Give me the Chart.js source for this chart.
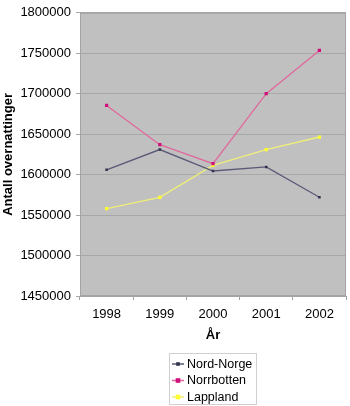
<!DOCTYPE html>
<html>
<head>
<meta charset="utf-8">
<script src="https://cdn.jsdelivr.net/npm/chart.js@4/dist/chart.umd.min.js"></script>
<style>
  html, body { margin: 0; padding: 0; background: #ffffff; }
  #wrap { position: relative; width: 350px; height: 406px; }
</style>
</head>
<body>
<div id="wrap"><canvas id="c" width="350" height="406"></canvas></div>
<script>
const years = ['1998', '1999', '2000', '2001', '2002'];
const nordNorge = [1606000, 1631000, 1604500, 1609500, 1572000];
const norrbotten = [1685500, 1637000, 1613500, 1700000, 1753500];
const lappland = [1558000, 1572000, 1611500, 1631000, 1646500];
const seriesNames = ['Nord-Norge', 'Norrbotten', 'Lappland'];
const yMin = 1450000, yMax = 1800000, yStep = 50000;
const xTitle = 'År';
const yTitle = 'Antall overnattinger';

const FONT = "'Liberation Sans', Arial, sans-serif";

const plotBg = {
  id: 'plotBg',
  beforeDraw(chart) {
    const a = chart.chartArea, ctx = chart.ctx;
    ctx.save();
    ctx.fillStyle = '#c0c0c0';
    ctx.fillRect(a.left, a.top, a.right - a.left, a.bottom - a.top);
    ctx.restore();
  },
  afterDatasetsDraw(chart) {
    const a = chart.chartArea, ctx = chart.ctx;
    ctx.save();
    ctx.strokeStyle = '#a4a4a4';
    ctx.lineWidth = 1;
    ctx.strokeRect(a.left + 0.5, a.top + 0.5, a.right - a.left - 1, a.bottom - a.top - 1);
    ctx.restore();
  }
};

const boxLegend = {
  id: 'boxLegend',
  afterDraw(chart) {
    const ctx = chart.ctx;
    const x0 = 169, y0 = 353, w = 88, h = 52;
    ctx.save();
    ctx.fillStyle = '#ffffff';
    ctx.fillRect(x0, y0, w, h);
    ctx.strokeStyle = '#d0d0d0';
    ctx.lineWidth = 1;
    ctx.strokeRect(x0 + 0.5, y0 + 0.5, w - 1, h - 1);
    chart.data.datasets.forEach((ds, i) => {
      const y = 364 + i * 16.5;
      ctx.strokeStyle = ds.borderColor;
      ctx.lineWidth = 1.5;
      ctx.beginPath();
      ctx.moveTo(172, y);
      ctx.lineTo(184, y);
      ctx.stroke();
      ctx.fillStyle = ds.pointBackgroundColor;
      const r = ds.pointRadius;
      ctx.fillRect(178 - r, y - r, 2 * r, 2 * r);
      ctx.fillStyle = '#000000';
      ctx.font = '12.5px ' + FONT;
      ctx.textBaseline = 'middle';
      ctx.textAlign = 'left';
      ctx.fillText(ds.label, 187, y + 0.5);
    });
    ctx.restore();
  }
};

new Chart(document.getElementById('c'), {
  type: 'line',
  data: {
    labels: years,
    datasets: [
      {
        label: seriesNames[0], data: nordNorge,
        borderColor: '#5a5a78', backgroundColor: '#5a5a78',
        pointBackgroundColor: '#33334f', pointBorderColor: '#33334f',
        pointStyle: 'rect', pointRadius: 1.8, pointBorderWidth: 0,
        borderWidth: 1.3, tension: 0
      },
      {
        label: seriesNames[1], data: norrbotten,
        borderColor: '#e0689c', backgroundColor: '#e0689c',
        pointBackgroundColor: '#d0107a', pointBorderColor: '#d0107a',
        pointStyle: 'rect', pointRadius: 2.3, pointBorderWidth: 0,
        borderWidth: 1.3, tension: 0
      },
      {
        label: seriesNames[2], data: lappland,
        borderColor: '#eeee7a', backgroundColor: '#eeee7a',
        pointBackgroundColor: '#ffff30', pointBorderColor: '#ffff30',
        pointStyle: 'rect', pointRadius: 2.3, pointBorderWidth: 0,
        borderWidth: 1.3, tension: 0
      }
    ]
  },
  options: {
    responsive: false,
    animation: false,
    devicePixelRatio: 1,
    layout: { padding: { top: 8, right: 2, bottom: 62, left: 0 } },
    plugins: { legend: { display: false }, tooltip: { enabled: false } },
    scales: {
      x: {
        offset: true,
        afterFit(s) { s.height = 48; },
        grid: { offset: true, drawOnChartArea: false, drawTicks: true, tickLength: 4, color: '#a0a0a0' },
        border: { display: true, color: '#a4a4a4' },
        ticks: { color: '#000000', font: { family: FONT, size: 13 }, padding: 7, maxRotation: 0 },
        title: { display: true, text: xTitle, color: '#000000', font: { family: FONT, size: 13, weight: 'bold' }, padding: { top: 0, bottom: 1 } }
      },
      y: {
        min: yMin, max: yMax,
        afterFit(s) { s.width = 80; },
        grid: { color: '#a8a8a8', tickLength: 4, drawTicks: true },
        border: { display: true, color: '#a4a4a4' },
        ticks: { stepSize: yStep, color: '#000000', font: { family: FONT, size: 13 }, padding: 5, callback: v => String(v) },
        title: { display: true, text: yTitle, color: '#000000', font: { family: FONT, size: 13, weight: 'bold' }, padding: { top: 1, bottom: 0 } }
      }
    }
  },
  plugins: [plotBg, boxLegend]
});
</script>
</body>
</html>
